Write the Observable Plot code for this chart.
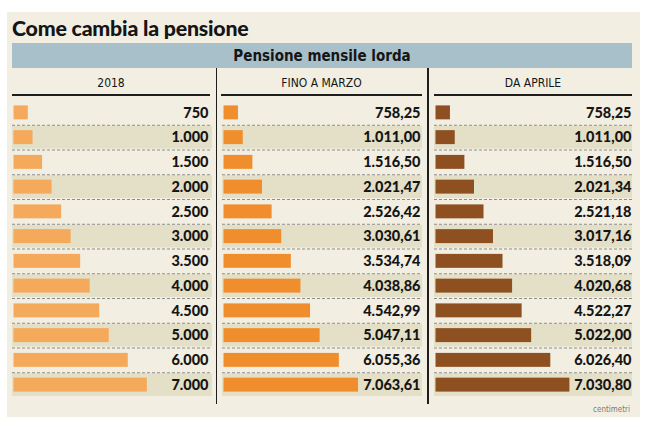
<!DOCTYPE html>
<html><head><meta charset="utf-8">
<script src="https://cdn.jsdelivr.net/npm/d3@7"></script>
<script src="https://cdn.jsdelivr.net/npm/@observablehq/plot@0.6"></script>
<style>
body{margin:0;background:#fff;width:648px;height:427px;position:relative;overflow:hidden;font-family:"DejaVu Sans Condensed","Roboto",sans-serif;color:#151515;}
#panel{position:absolute;left:7px;top:12px;width:633px;height:405px;background:#f2eee2;}
#title{position:absolute;left:12px;top:16px;font-family:Lato,"DejaVu Sans Condensed",sans-serif;font-size:21.3px;line-height:24px;font-weight:900;white-space:nowrap;letter-spacing:-0.2px;}
#band{position:absolute;left:12px;top:43px;width:620px;height:25px;background:#a7c0ca;text-align:center;line-height:26px;font-size:15px;font-weight:bold;}
.head{position:absolute;top:70px;height:24px;line-height:26px;text-align:center;font-size:12px;border-bottom:2px solid #1e1e1e;white-space:nowrap;}
.sep{position:absolute;top:68px;height:336px;width:1.5px;background:#1e1e1e;}
.col{position:absolute;top:99.5px;}
.col svg{display:block;}
#credit{position:absolute;left:593px;top:405px;font-size:8px;color:#7a7a7a;font-family:"DejaVu Sans Condensed","DejaVu Sans",sans-serif;}
</style></head>
<body>
<div id="panel"></div>
<div id="title">Come cambia la pensione</div>
<div id="band">Pensione mensile lorda</div>
<div class="head" id="h1" style="left:12px;width:198px;"></div>
<div class="head" id="h2" style="left:221px;width:201px;"></div>
<div class="head" id="h3" style="left:434px;width:198px;"></div>
<div class="sep" style="left:215.5px;"></div>
<div class="sep" style="left:427px;"></div>
<div class="col" id="c1" style="left:12px;"></div>
<div class="col" id="c2" style="left:222px;"></div>
<div class="col" id="c3" style="left:434px;"></div>
<div id="credit">centimetri</div>
<script>
// ---- data ----
const columnHeaders = ["2018", "FINO A MARZO", "DA APRILE"];
const values2018 = [750, 1000, 1500, 2000, 2500, 3000, 3500, 4000, 4500, 5000, 6000, 7000];
const valuesFinoMarzo = [758.25, 1011.00, 1516.50, 2021.47, 2526.42, 3030.61, 3534.74, 4038.86, 4542.99, 5047.11, 6055.36, 7063.61];
const valuesDaAprile = [758.25, 1011.00, 1516.50, 2021.34, 2521.18, 3017.16, 3518.09, 4020.68, 4522.27, 5022.00, 6026.40, 7030.80];
const colors = ["#f5a95b", "#f08e2e", "#8e5021"];

const it = d3.formatLocale({decimal: ",", thousands: ".", grouping: [3], currency: ["€", ""]});
const fmt0 = it.format(",.0f");
const fmt2 = it.format(",.2f");

["h1","h2","h3"].forEach((id, i) => document.getElementById(id).textContent = columnHeaders[i]);

const rowKeys = values2018.map(String);
const H = 297;

function column(vals, color, width, fmt, dx) {
  const data = rowKeys.map((r, i) => ({row: r, value: vals[i], i}));
  return Plot.plot({
    width, height: H, margin: 0,
    x: {domain: [0, 10500], range: [1.5, 201.5], axis: null},
    y: {domain: rowKeys, range: [0, H], padding: 0, round: false, axis: null},
    style: {background: "transparent", overflow: "visible"},
    marks: [
      Plot.cell(data.filter(d => d.i % 2 === 1), {y: "row", fill: "#e4dfc7", insetTop: 1, insetBottom: 1}),
      Plot.ruleY(data.slice(0, -1), {y: "row", dy: H / 24, stroke: "#8c8c8c", strokeWidth: 1, strokeDasharray: "3,2"}),
      Plot.barX(data, {x: "value", y: "row", fill: color, insetTop: 5.4, insetBottom: 5.4}),
      Plot.text(data, {y: "row", text: d => fmt(d.value), frameAnchor: "right", textAnchor: "end", dx,
        fontWeight: 900, fontSize: 14.5, fill: "#151515", fontFamily: "Lato, DejaVu Sans Condensed, sans-serif"})
    ]
  });
}

document.getElementById("c1").append(column(values2018, colors[0], 200, fmt0, -4));
document.getElementById("c2").append(column(valuesFinoMarzo, colors[1], 200, fmt2, -2));
document.getElementById("c3").append(column(valuesDaAprile, colors[2], 198, fmt2, -1));
</script>
</body></html>
